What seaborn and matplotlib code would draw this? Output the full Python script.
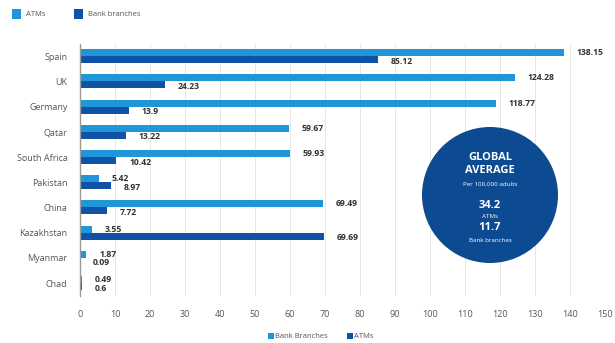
import matplotlib
matplotlib.use("Agg")
import matplotlib.pyplot as plt
from matplotlib.patches import Ellipse, Rectangle
import seaborn as sns
import pandas as pd

countries = ["Spain", "UK", "Germany", "Qatar", "South Africa", "Pakistan",
             "China", "Kazakhstan", "Myanmar", "Chad"]
atms = [138.15, 124.28, 118.77, 59.67, 59.93, 5.42, 69.49, 3.55, 1.87, 0.49]
branches = [85.12, 24.23, 13.9, 13.22, 10.42, 8.97, 7.72, 69.69, 0.09, 0.6]
atm_labels = ["138.15", "124.28", "118.77", "59.67", "59.93", "5.42", "69.49", "3.55", "1.87", "0.49"]
branch_labels = ["85.12", "24.23", "13.9", "13.22", "10.42", "8.97", "7.72", "69.69", "0.09", "0.6"]
xticks = [0, 10, 20, 30, 40, 50, 60, 70, 80, 90, 100, 110, 120, 130, 140, 150]

LIGHT = "#1f96d8"
DARK = "#0f52a6"
CIRCLE = "#0c4a92"

sns.set_theme(style="white")
plt.rcParams["font.family"] = ["Open Sans", "DejaVu Sans"]

df = pd.DataFrame({
    "country": countries * 2,
    "value": atms + branches,
    "series": ["ATMs"] * len(countries) + ["Bank branches"] * len(countries),
})

fig = plt.figure(figsize=(6.15, 3.43), dpi=100)
ax = fig.add_axes([0.130, 0.138, 0.854, 0.735])
sns.barplot(data=df, y="country", x="value", hue="series", order=countries,
            hue_order=["ATMs", "Bank branches"], palette=[LIGHT, DARK],
            orient="h", width=0.56, gap=0, ax=ax, legend=False, saturation=1,
            linewidth=0, edgecolor="none")

ax.set_xlim(0, 150)
ax.set_xticks(xticks)
ax.set_xticklabels([str(t) for t in xticks], fontsize=6.5, color="#555555")
ax.tick_params(axis="y", labelsize=6.5, labelcolor="#555555", length=0, pad=9)
ax.tick_params(axis="x", length=0, pad=10)
ax.set_xlabel("")
ax.set_ylabel("")
ax.grid(axis="x", color="#e6e6e6", linewidth=0.7)
ax.set_axisbelow(True)
for s in ["top", "right", "bottom"]:
    ax.spines[s].set_visible(False)
ax.spines["left"].set_color("#9a9a9a")
ax.spines["left"].set_linewidth(1.0)

# data labels
bars = ax.patches
n = len(countries)
for i, p in enumerate(bars[:2 * n]):
    idx = i % n
    lab = atm_labels[idx] if i < n else branch_labels[idx]
    y = p.get_y() + p.get_height() / 2
    ax.text(p.get_width() + 3.6, y + (0.06 if i >= n else 0), lab, fontsize=6.2,
            fontweight="bold", color="#333333", va="center", ha="left")

# global average circle
fig.add_artist(Ellipse((490 / 615, 1 - 195 / 343), 136 / 615, 136 / 343,
                       transform=fig.transFigure, facecolor=CIRCLE, edgecolor="none", zorder=5))
cx = 490 / 615
def ft(y, s, size, bold=False):
    fig.text(cx, 1 - y / 343, s, fontsize=size, color="white", ha="center", va="center",
             fontweight="bold" if bold else "normal", zorder=6)
ft(157, "GLOBAL", 8, True)
ft(171, "AVERAGE", 8, True)
ft(184, "Per 100,000 adults", 4.5)
ft(205, "34.2", 8, True)
ft(216, "ATMs", 4.5)
ft(228, "11.7", 8, True)
ft(241, "Bank branches", 4.5)

# top legend
def leg(x, y, color, label):
    fig.add_artist(Rectangle((x / 615, 1 - (y + 5) / 343), 9 / 615, 10 / 343,
                             transform=fig.transFigure, facecolor=color, edgecolor="none"))
    fig.text((x + 14) / 615, 1 - y / 343, label, fontsize=5.5, color="#555555", va="center")
leg(12, 14, LIGHT, "ATMs")
leg(74, 14, DARK, "Bank branches")

# bottom legend
def leg2(x, y, color, label):
    fig.add_artist(Rectangle((x / 615, 1 - (y + 3) / 343), 6 / 615, 6 / 343,
                             transform=fig.transFigure, facecolor=color, edgecolor="none"))
    fig.text((x + 7) / 615, 1 - y / 343, label, fontsize=5.5, color="#555555", va="center")
leg2(268, 336, LIGHT, "Bank Branches")
leg2(347, 336, DARK, "ATMs")

fig.savefig("out.png", dpi=100)
